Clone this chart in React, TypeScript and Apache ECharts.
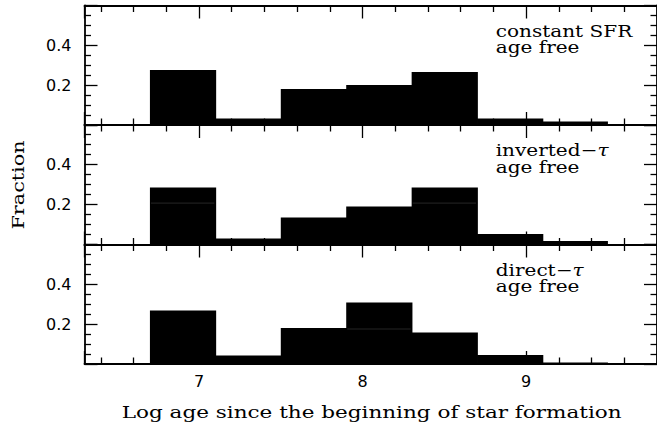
import React, { useEffect, useRef } from 'react';
import * as echarts from 'echarts';

// ---- data ----
const binEdges = [6.7, 7.1, 7.5, 7.9, 8.3, 8.7, 9.1, 9.5];
const constantSFR = [0.275, 0.033, 0.18, 0.2, 0.265, 0.033, 0.018];
const constantSFRInner = [0, 0, 0, 0, 0, 0, 0];
const invertedTau = [0.285, 0.03, 0.135, 0.19, 0.285, 0.052, 0.018];
const invertedTauInner = [0.207, 0, 0, 0, 0.207, 0, 0];
const directTau = [0.267, 0.042, 0.18, 0.308, 0.158, 0.045, 0.008];
const directTauInner = [0, 0, 0, 0.175, 0, 0, 0];
const xTickLabels = ['7', '8', '9'];
const yTickLabels = ['0.2', '0.4'];
const panelTitles = [
  ['constant SFR', 'age free'],
  ['inverted−', 'age free'],
  ['direct−', 'age free'],
];
const panelTitleSymbols = ['', 'τ', 'τ'];
const xTitle = 'Log age since the beginning of star formation';
const yTitle = 'Fraction';

// ---- layout ----
const X_MIN = 6.3;
const X_MAX = 9.8;
const Y_MAX = 0.5975;
const PANEL_TOPS = [5.5, 125, 244.5];
const PANEL_H = 119.5;
const GRID_LEFT = 84.5;
const SERIF = '"DejaVu Serif", serif';
const SANS = '"DejaVu Sans", sans-serif';

const panels = [
  { values: constantSFR, inner: constantSFRInner },
  { values: invertedTau, inner: invertedTauInner },
  { values: directTau, inner: directTauInner },
];

function buildOption() {
  const grid: any[] = [];
  const xAxis: any[] = [];
  const yAxis: any[] = [];
  const series: any[] = [];
  const graphic: any[] = [];
  const lineStyle = { color: '#000', width: 1.8 };
  const tickStyle = { color: '#000', width: 1.3 };

  panels.forEach((p, i) => {
    grid.push({ left: GRID_LEFT, right: -1.5, top: PANEL_TOPS[i], height: PANEL_H });
    const xCommon = {
      gridIndex: i,
      type: 'value',
      min: X_MIN,
      max: X_MAX,
      splitNumber: 4,
      axisLine: { show: true, onZero: false, lineStyle },
      axisTick: { show: true, inside: true, length: 13, lineStyle: tickStyle },
      minorTick: { show: true, splitNumber: 5, length: 6.5, lineStyle: tickStyle },
      splitLine: { show: false },
      minorSplitLine: { show: false },
    };
    xAxis.push({
      ...xCommon,
      position: 'bottom',
      axisLabel: {
        show: i === 2,
        margin: 9,
        color: '#000',
        fontFamily: SANS,
        fontSize: 16,
        showMinLabel: false,
        showMaxLabel: false,
        formatter: (v: number) => xTickLabels.find((s) => Math.abs(parseFloat(s) - v) < 1e-6) ?? '',
      },
    });
    xAxis.push({ ...xCommon, position: 'top', axisLabel: { show: false } });
    const yCommon = {
      gridIndex: i,
      type: 'value',
      min: 0,
      max: Y_MAX,
      interval: 0.2,
      axisLine: { show: true, onZero: false, lineStyle },
      axisTick: { show: true, inside: true, length: 13, lineStyle: tickStyle },
      minorTick: { show: true, splitNumber: 4, length: 6.5, lineStyle: tickStyle },
      splitLine: { show: false },
      minorSplitLine: { show: false },
    };
    yAxis.push({
      ...yCommon,
      position: 'left',
      axisLabel: {
        show: true,
        margin: 13,
        color: '#000',
        fontFamily: SANS,
        fontSize: 16,
        showMinLabel: false,
        showMaxLabel: false,
        padding: [4, 0, 0, 0],
        formatter: (v: number) => yTickLabels.find((s) => Math.abs(parseFloat(s) - v) < 1e-6) ?? '',
      },
    });
    yAxis.push({ ...yCommon, position: 'right', axisLabel: { show: false } });

    const nBins = p.values.length;
    series.push({
      type: 'custom',
      xAxisIndex: 2 * i,
      yAxisIndex: 2 * i,
      clip: false,
      z: 1,
      encode: { x: [0, 1], y: 2 },
      data: p.values.map((v, k) => [binEdges[k], binEdges[k + 1], v, p.inner[k]]),
      renderItem: (params: any, api: any) => {
        const x0 = api.value(0);
        const x1 = api.value(1);
        const v = api.value(2);
        const inner = api.value(3);
        const a = api.coord([x0, 0]);
        const b = api.coord([x1, v]);
        const overlap = params.dataIndex < nBins - 1 ? 0.8 : 0;
        const children: any[] = [
          {
            type: 'rect',
            shape: { x: a[0], y: b[1], width: b[0] - a[0] + overlap, height: a[1] - b[1] },
            style: { fill: '#000' },
          },
        ];
        if (inner > 0) {
          const c = api.coord([x0, inner]);
          const d = api.coord([x1, inner]);
          children.push({
            type: 'line',
            shape: { x1: c[0] + 1, y1: c[1], x2: d[0] - 1, y2: d[1] },
            style: { stroke: '#2e2e2e', lineWidth: 0.8 },
          });
        }
        return { type: 'group', children };
      },
    });

    const font = `17px ${SERIF}`;
    panelTitles[i].forEach((t, j) => {
      const sym = j === 0 ? panelTitleSymbols[i] : '';
      graphic.push({
        type: 'text',
        x: 495.7,
        y: PANEL_TOPS[i] + 25.3 + j * 16.5,
        scaleX: 1.18,
        style: {
          text: sym ? `{n|${t}}{t|${sym}}` : t,
          font,
          fill: '#000',
          align: 'left',
          verticalAlign: 'middle',
          rich: sym
            ? {
                n: { fontFamily: SERIF, fontSize: 17, fill: '#000' },
                t: { fontFamily: SERIF, fontSize: 17, fontStyle: 'italic', fill: '#000' },
              }
            : undefined,
        },
      });
    });
  });

  graphic.push({
    type: 'text',
    x: 121.7,
    y: 412.2,
    scaleX: 1.23,
    style: { text: xTitle, font: `17.5px ${SERIF}`, fill: '#000', align: 'left', verticalAlign: 'middle' },
  });
  graphic.push({
    type: 'text',
    x: 17.5,
    y: 185,
    rotation: Math.PI / 2,
    scaleX: 1.22,
    style: { text: yTitle, font: `17px ${SERIF}`, fill: '#000', align: 'center', verticalAlign: 'middle' },
  });

  return { animation: false, backgroundColor: '#fff', grid, xAxis, yAxis, series, graphic };
}

export default function App() {
  const ref = useRef<HTMLDivElement>(null);
  useEffect(() => {
    if (!ref.current) return;
    const chart = echarts.init(ref.current, undefined, { renderer: 'svg' });
    chart.setOption(buildOption() as any);
    return () => chart.dispose();
  }, []);
  return <div ref={ref} style={{ width: 657, height: 427, position: 'absolute', left: 0, top: 0 }} />;
}
